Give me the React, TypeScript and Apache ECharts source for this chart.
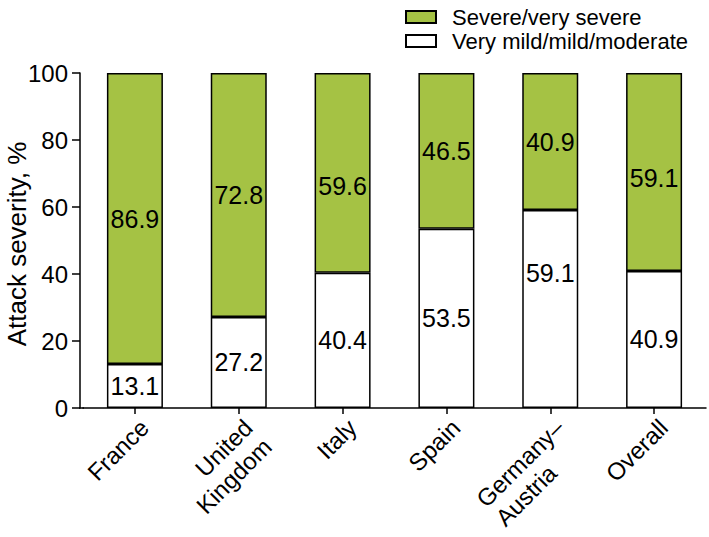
import React, { useEffect, useRef } from "react";
import * as echarts from "echarts";

const categories = ["France", "United\nKingdom", "Italy", "Spain", "Germany–\nAustria", "Overall"];
const mildValues = [13.1, 27.2, 40.4, 53.5, 59.1, 40.9];
const severeValues = [86.9, 72.8, 59.6, 46.5, 40.9, 59.1];
const yTicks = { min: 0, max: 100, interval: 20 };
const seriesNames = ["Severe/very severe", "Very mild/mild/moderate"];
const yAxisTitle = "Attack severity, %";
// vertical nudges of value labels (px), as in the reference
const mildLabelShift = [0, 0, 0, 0, -36, 0];
const severeLabelShift = [0, 0, 13, 0, 0, 6];
// categories whose label lines are left-aligned in the reference
const leftAlignedLabels = ["Germany–\nAustria"];

const FONT = "'Liberation Sans', Arial, Helvetica, sans-serif";
const GREEN = "#a5c244";
const XFS = 24;

export default function App() {
  const ref = useRef<HTMLDivElement>(null);
  useEffect(() => {
    document.body.style.margin = "0";
    const chart = echarts.init(ref.current!, null, { renderer: "svg" });
    const mkData = (vals: number[], shifts: number[]) =>
      vals.map((v, i) => (shifts[i] ? { value: v, label: { offset: [0, shifts[i]] } } : { value: v }));
    chart.setOption({
      animation: false,
      textStyle: { fontFamily: FONT },
      grid: { left: 83, right: 3, top: 73, bottom: 129, outerBoundsMode: "none", containLabel: false },
      legend: {
        data: seriesNames,
        orient: "vertical",
        left: 405,
        top: 6,
        padding: 0,
        itemWidth: 30,
        itemHeight: 12,
        itemGap: 2,
        icon: "rect",
        selectedMode: false,
        textStyle: { fontSize: 22, color: "#000", fontFamily: FONT, lineHeight: 22, padding: [0, 0, 0, 11] },
      },
      xAxis: {
        type: "category",
        data: categories,
        axisLine: { lineStyle: { color: "#000", width: 1.5 } },
        axisTick: { show: true, alignWithLabel: true, length: 6, lineStyle: { color: "#000", width: 1.5 } },
        axisLabel: {
          rotate: 45,
          fontSize: XFS,
          lineHeight: 27,
          margin: 6,
          verticalAlign: "top",
          color: "#000",
          fontFamily: FONT,
          interval: 0,
          formatter: (v: string) =>
            leftAlignedLabels.includes(v)
              ? v
                  .split("\n")
                  .map((s) => `{l|${s}}`)
                  .join("\n")
              : v,
          rich: {
            l: { align: "left", fontSize: XFS, lineHeight: 27, fontFamily: FONT, color: "#000" },
          },
        },
      },
      yAxis: {
        type: "value",
        min: yTicks.min,
        max: yTicks.max,
        interval: yTicks.interval,
        offset: 3,
        axisLine: { show: true, lineStyle: { color: "#000", width: 1.5 } },
        axisTick: { show: true, length: 8, lineStyle: { color: "#000", width: 1.5 } },
        axisLabel: { fontSize: 24, margin: 12, color: "#000", fontFamily: FONT },
        splitLine: { show: false },
      },
      graphic: [
        {
          type: "line",
          shape: { x1: 79, y1: 408, x2: 84, y2: 408 },
          style: { stroke: "#000", lineWidth: 1.5 },
        },
        {
          type: "text",
          x: 17,
          y: 244,
          rotation: Math.PI / 2,
          style: {
            text: yAxisTitle,
            fontSize: 26,
            fontFamily: FONT,
            fill: "#000",
            align: "center",
            verticalAlign: "middle",
          },
        },
      ],
      series: [
        {
          name: seriesNames[1],
          type: "bar",
          stack: "total",
          barWidth: 56,
          data: mkData(mildValues, mildLabelShift),
          itemStyle: { color: "#fff", borderColor: "#000", borderWidth: 1.5 },
          label: { show: true, position: "inside", fontSize: 25, color: "#000", fontFamily: FONT },
        },
        {
          name: seriesNames[0],
          type: "bar",
          stack: "total",
          barWidth: 56,
          data: mkData(severeValues, severeLabelShift),
          itemStyle: { color: GREEN, borderColor: "#000", borderWidth: 1.5 },
          label: { show: true, position: "inside", fontSize: 25, color: "#000", fontFamily: FONT },
        },
      ],
    });
    return () => chart.dispose();
  }, []);
  return <div ref={ref} style={{ width: 709, height: 537 }} />;
}
